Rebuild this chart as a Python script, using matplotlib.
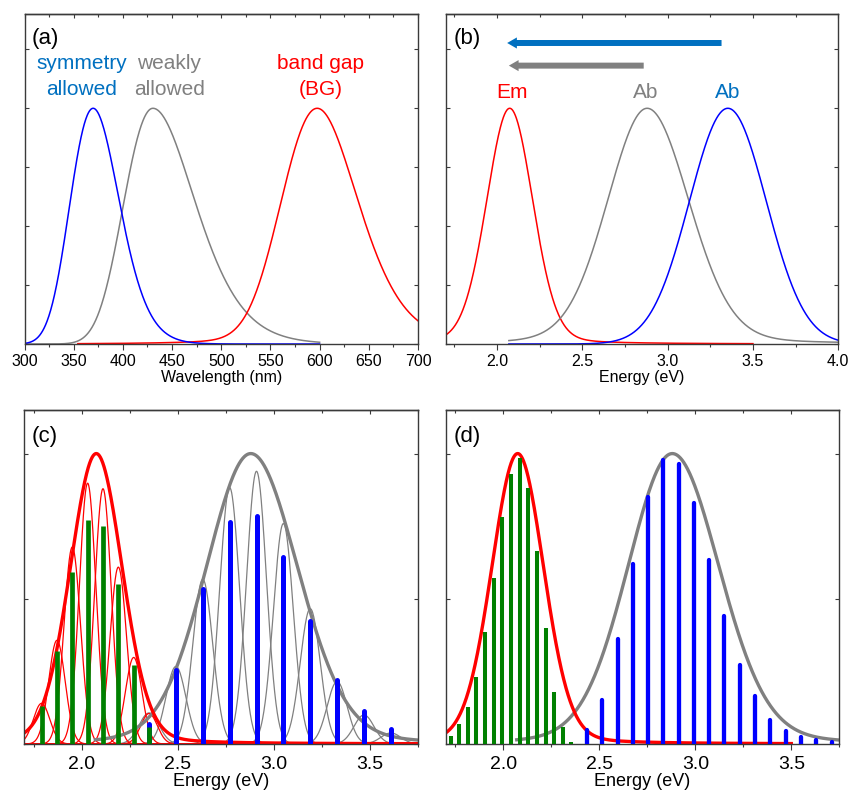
import numpy as np
import matplotlib
matplotlib.use("Agg")
import matplotlib.pyplot as plt
from matplotlib.patches import FancyArrowPatch
from matplotlib.ticker import MultipleLocator

plt.rcParams["font.family"] = ["Liberation Sans", "DejaVu Sans"]

HC = 1239.84  # eV*nm

# ---- band shapes (energies in eV) ----
em_center, em_hwhm, em_lor = 2.075, 0.16, 0.12          # emission (BG)
weak_center, weak_hwhm_lo, weak_hwhm_hi, weak_lor = 2.88, 0.275, 0.29, 0.12  # weakly allowed Ab
sym_center, sym_sigma = 3.353, 0.225                     # symmetry allowed Ab
# wavelength panel: weakly allowed band widths (low / high energy side)
weak_sigma_lo_a, weak_sigma_hi_a = 0.26, 0.21

# ---- (c) vibronic progressions ----
em_lines_c = [1.79, 1.87, 1.95, 2.03, 2.11, 2.19, 2.27, 2.35]
em_sticks_c = [0.132, 0.320, 0.592, 0.770, 0.750, 0.550, 0.271, 0.060]
em_bands_c = [0.14, 0.357, 0.678, 0.898, 0.879, 0.609, 0.298, 0.105]
em_band_sigma_c = 0.043

ab_lines_c = [2.35, 2.49, 2.63, 2.77, 2.91, 3.05, 3.19, 3.33, 3.47, 3.61]
ab_sticks_c = [0.069, 0.254, 0.533, 0.765, 0.785, 0.645, 0.425, 0.222, 0.113, 0.053]
ab_bands_c = [0.107, 0.267, 0.567, 0.883, 0.939, 0.759, 0.466, 0.215, 0.100, 0.038]
ab_band_sigma_c = 0.052

# ---- (d) stick spectra ----
em_lines_d = [1.725, 1.770, 1.815, 1.860, 1.905, 1.950, 1.995, 2.040, 2.085,
              2.130, 2.175, 2.220, 2.265, 2.310, 2.355]
em_sticks_d = [0.029, 0.070, 0.127, 0.229, 0.385, 0.570, 0.780, 0.931, 0.986,
               0.883, 0.664, 0.399, 0.179, 0.057, 0.007]
ab_lines_d = [2.435, 2.515, 2.595, 2.674, 2.754, 2.834, 2.913, 2.993, 3.073,
              3.152, 3.232, 3.312, 3.391, 3.471, 3.551, 3.630, 3.710]
ab_sticks_d = [0.049, 0.152, 0.361, 0.619, 0.851, 0.979, 0.963, 0.830, 0.632,
               0.441, 0.273, 0.164, 0.081, 0.044, 0.023, 0.013, 0.007]

RED, GRAY, BLUE, GREEN, OBLUE = "#FF0000", "#808080", "#0000FF", "#008000", "#0070C0"
SPINE = "#3a3a3a"


def gauss(x, c, s):
    return np.exp(-0.5 * ((x - c) / s) ** 2)


def split_gauss(x, c, s_lo, s_hi):
    s = np.where(x < c, s_lo, s_hi)
    return np.exp(-0.5 * ((x - c) / s) ** 2)


def pvoigt(x, c, hw_lo, hw_hi, eta):
    hw = np.where(x < c, hw_lo, hw_hi)
    s = hw / np.sqrt(2 * np.log(2))
    return (1 - eta) * np.exp(-0.5 * ((x - c) / s) ** 2) + eta / (1 + ((x - c) / hw) ** 2)


def em_shape(e):
    return pvoigt(e, em_center, em_hwhm, em_hwhm, em_lor)


def weak_shape(e):
    return pvoigt(e, weak_center, weak_hwhm_lo, weak_hwhm_hi, weak_lor)


def sym_shape(e):
    return gauss(e, sym_center, sym_sigma)


def style(ax, xmaj, xmin, ymaj, tick_fs, pad):
    for sp in ax.spines.values():
        sp.set_color(SPINE)
        sp.set_linewidth(1.0)
    ax.xaxis.set_major_locator(MultipleLocator(xmaj))
    ax.xaxis.set_minor_locator(MultipleLocator(xmin))
    ax.yaxis.set_major_locator(MultipleLocator(ymaj))
    ax.tick_params(axis="x", which="major", direction="out", length=4, width=0.8,
                   color=SPINE, labelsize=tick_fs, pad=pad)
    ax.tick_params(axis="x", which="minor", direction="out", length=2.4, width=0.8, color=SPINE)
    ax.tick_params(axis="y", which="major", direction="in", length=3, width=0.8,
                   color=SPINE, left=True, right=True, labelleft=False)
    ax.tick_params(axis="y", which="minor", left=False, right=False)
    top = ax.secondary_xaxis("top")
    top.xaxis.set_major_locator(MultipleLocator(xmaj))
    top.xaxis.set_minor_locator(MultipleLocator(xmin))
    top.tick_params(axis="x", which="major", direction="in", length=3, width=0.8,
                    color=SPINE, labeltop=False)
    top.tick_params(axis="x", which="minor", direction="in", length=2, width=0.8,
                    color=SPINE, labeltop=False)
    top.spines["top"].set_color(SPINE)
    top.spines["top"].set_linewidth(1.0)


def sticks(ax, xs, hs, color, lw, cap):
    lc = ax.vlines(xs, 0, hs, colors=color, linewidth=lw, zorder=5)
    lc.set_capstyle(cap)
    return lc


fig = plt.figure(figsize=(8.5, 7.94), dpi=100)
W, H = 850.0, 794.0
ax_a = fig.add_axes([24.5 / W, 1 - 344 / H, 393.5 / W, 330 / H])
ax_b = fig.add_axes([445.7 / W, 1 - 344 / H, 392.6 / W, 330 / H])
ax_c = fig.add_axes([24.3 / W, 1 - 744 / H, 393.4 / W, 334 / H])
ax_d = fig.add_axes([445.7 / W, 1 - 744 / H, 393.6 / W, 334 / H])

# ---------------- (a) wavelength ----------------
wl = np.linspace(300, 600, 800)
wl_red = np.linspace(HC / 3.5, 700, 800)
ax_a.plot(wl, split_gauss(HC / wl, weak_center, weak_sigma_lo_a, weak_sigma_hi_a), color=GRAY, lw=1.1)
ax_a.plot(wl_red, em_shape(HC / wl_red), color=RED, lw=1.1)
ax_a.plot(wl, sym_shape(HC / wl), color=BLUE, lw=1.1)
ax_a.set_xlim(300, 700)
ax_a.set_ylim(0, 1.4)
style(ax_a, 50, 25, 0.25, 11.5, 3.5)
ax_a.set_xlabel("Wavelength (nm)", fontsize=11.5, labelpad=0.5)

fs_txt = 15
ax_a.text(358.3, 1.165, "symmetry", color=OBLUE, fontsize=fs_txt, ha="center", va="baseline")
ax_a.text(358.3, 1.058, "allowed", color=OBLUE, fontsize=fs_txt, ha="center", va="baseline")
ax_a.text(447.2, 1.165, "weakly", color=GRAY, fontsize=fs_txt, ha="center", va="baseline")
ax_a.text(447.2, 1.058, "allowed", color=GRAY, fontsize=fs_txt, ha="center", va="baseline")
ax_a.text(601.0, 1.165, "band gap", color=RED, fontsize=fs_txt, ha="center", va="baseline")
ax_a.text(601.0, 1.058, "(BG)", color=RED, fontsize=fs_txt, ha="center", va="baseline")

# ---------------- (b) energy ----------------
e_em = np.linspace(1.7, 3.5, 800)
e_ab = np.linspace(2.07, 4.0, 800)
ax_b.plot(e_em, em_shape(e_em), color=RED, lw=1.1)
ax_b.plot(e_ab, weak_shape(e_ab), color=GRAY, lw=1.1)
ax_b.plot(e_ab, sym_shape(e_ab), color=BLUE, lw=1.1)
ax_b.set_xlim(1.7, 4.0)
ax_b.set_ylim(0, 1.4)
style(ax_b, 0.5, 0.25, 0.25, 11.5, 3.5)
ax_b.set_xlabel("Energy (eV)", fontsize=11.5, labelpad=0.5)
ax_b.text(2.087, 1.042, "Em", color=RED, fontsize=fs_txt, ha="center", va="baseline")
ax_b.text(2.873, 1.042, "Ab", color=GRAY, fontsize=fs_txt, ha="center", va="baseline")
ax_b.text(3.354, 1.042, "Ab", color=OBLUE, fontsize=fs_txt, ha="center", va="baseline")

arrow_kw = dict(arrowstyle="simple,head_length=7,head_width=8,tail_width=4.3",
                mutation_scale=1, shrinkA=0, shrinkB=0, lw=0)
ax_b.add_patch(FancyArrowPatch((3.316, 1.277), (2.06, 1.277), color=OBLUE, **arrow_kw))
ax_b.add_patch(FancyArrowPatch((2.86, 1.181), (2.07, 1.181), color=GRAY, **arrow_kw))

# ---------------- (c) progressions with bands ----------------
e_full = np.linspace(1.7, 3.75, 1200)
e_ab_c = np.linspace(2.07, 3.75, 1000)
for c, a in zip(ab_lines_c, ab_bands_c):
    ax_c.plot(e_full, a * gauss(e_full, c, ab_band_sigma_c), color=GRAY, lw=0.9)
for c, a in zip(em_lines_c, em_bands_c):
    ax_c.plot(e_full, a * gauss(e_full, c, em_band_sigma_c), color=RED, lw=0.9)
ax_c.plot(e_ab_c, weak_shape(e_ab_c), color=GRAY, lw=2.4)
ax_c.plot(e_full, em_shape(e_full), color=RED, lw=2.4)
sticks(ax_c, ab_lines_c, ab_sticks_c, BLUE, 3.6, "round")
sticks(ax_c, em_lines_c, em_sticks_c, GREEN, 3.4, "butt")
ax_c.set_xlim(1.7, 3.75)
ax_c.set_ylim(0, 1.15)
style(ax_c, 0.5, 0.25, 0.5, 14, 4.5)
ax_c.set_xlabel("Energy (eV)", fontsize=13, labelpad=0)

# ---------------- (d) stick spectra ----------------
e_em_d = np.linspace(1.7, 3.5, 1000)
ax_d.plot(e_ab_c, weak_shape(e_ab_c), color=GRAY, lw=2.4)
ax_d.plot(e_em_d, em_shape(e_em_d), color=RED, lw=2.4)
sticks(ax_d, ab_lines_d, ab_sticks_d, BLUE, 3.1, "round")
sticks(ax_d, em_lines_d, em_sticks_d, GREEN, 2.9, "butt")
ax_d.set_xlim(1.7, 3.75)
ax_d.set_ylim(0, 1.15)
style(ax_d, 0.5, 0.25, 0.5, 14, 4.5)
ax_d.set_xlabel("Energy (eV)", fontsize=13, labelpad=0)

# panel letters
for ax, lab, yb in [(ax_a, "(a)", 0.909), (ax_b, "(b)", 0.909),
                    (ax_c, "(c)", 0.903), (ax_d, "(d)", 0.903)]:
    ax.text(0.019, yb, lab, transform=ax.transAxes, fontsize=16, color="black",
            ha="left", va="baseline")

fig.savefig("out.png", dpi=100)
